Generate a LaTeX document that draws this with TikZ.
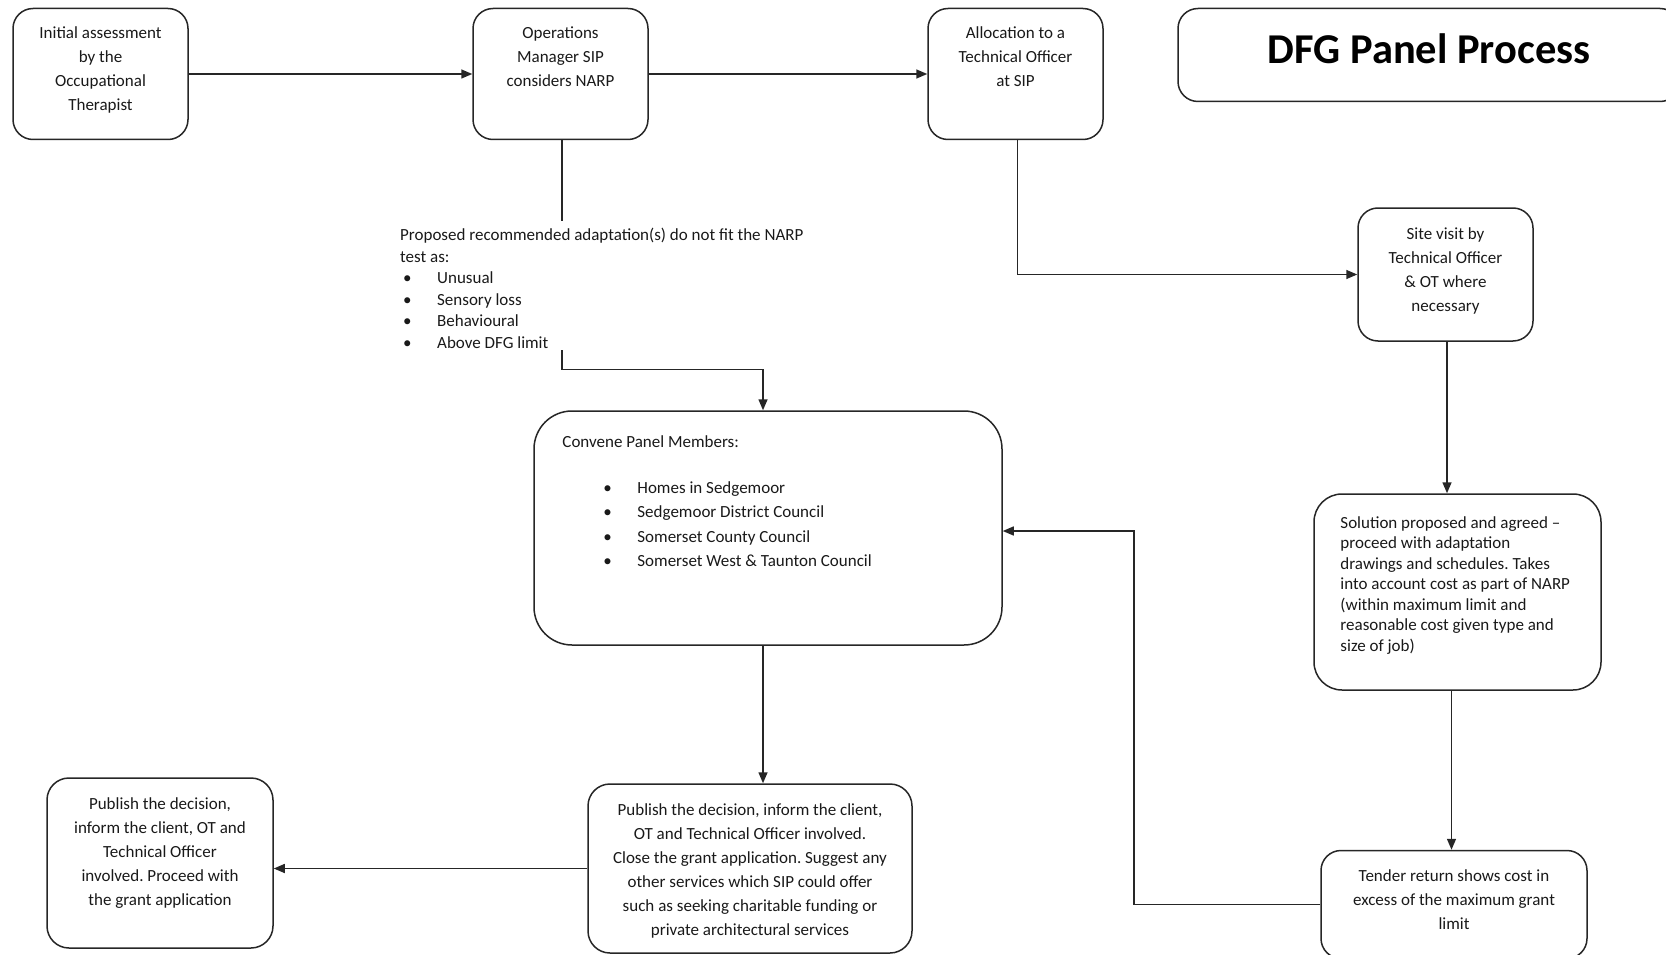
\documentclass[tikz,border=0pt]{standalone}
\usepackage{fontspec}
\setmainfont{Carlito}
\frenchspacing
\usetikzlibrary{arrows.meta,calc}
\tikzset{
  box/.style={draw=black!85, line width=1.5pt, rounded corners=20pt, inner sep=0pt},
  bigbox/.style={box, rounded corners=38pt},
  txt/.style={inner sep=0pt, align=center, font=\fontsize{17}{24}\selectfont, text=black!90},
  ltxt/.style={inner sep=0pt, align=left, font=\fontsize{17}{24}\selectfont, text=black!90},
  link/.style={draw=black!85, line width=1.5pt},
  arr/.style={link, -{Triangle[length=11pt,width=9pt]}},
}
\newcommand{\blt}[1]{\makebox[34pt][l]{\textbullet}#1}
\begin{document}
\begin{tikzpicture}[x=1pt,y=-1pt]
\useasboundingbox (0,0) rectangle (1666,955);
% boxes
\node[box, minimum width=175pt, minimum height=131pt] (A) at (100.5,74) {};
\node[box, minimum width=175pt, minimum height=131pt] (B) at (560.5,74) {};
\node[box, minimum width=175pt, minimum height=131pt] (C) at (1015.5,74) {};
\node[box, minimum width=502pt, minimum height=93pt] (title) at (1429,55) {};
\node[box, minimum width=175pt, minimum height=133pt] (site) at (1445.5,274.5) {};
\node[bigbox, minimum width=468pt, minimum height=234pt] (conv) at (768,528) {};
\node[box, rounded corners=28pt, minimum width=287pt, minimum height=196pt] (sol) at (1457.5,592) {};
\node[box, rounded corners=22pt, minimum width=324pt, minimum height=169pt] (pubR) at (750,868.5) {};
\node[box, rounded corners=22pt, minimum width=226pt, minimum height=170pt] (pubL) at (160,863) {};
\node[box, minimum width=266pt, minimum height=108pt] (tender) at (1454,904.5) {};
% texts
\node[txt, anchor=north] (tA) at ([yshift=-18.5pt]A.north) {Initial assessment\\by the\\Occupational\\Therapist};
\node[txt, anchor=north] (tB) at ([yshift=-18.5pt]B.north) {Operations\\Manager SIP\\considers NARP};
\node[txt, anchor=north] (tC) at ([yshift=-18.5pt]C.north) {Allocation to a\\Technical Officer\\at SIP};
\node[inner sep=0pt, font=\fontsize{42.5}{50}\selectfont\bfseries, text=black] (tT) at (1429,49) {DFG Panel Process};
\node[txt, anchor=north] (tS) at ([yshift=-20pt]site.north) {Site visit by\\Technical Officer\\\& OT where\\necessary};
\node[ltxt, anchor=north west, font=\fontsize{17}{20.5}\selectfont] (tSol) at ([xshift=27pt,yshift=-23pt]sol.north west)
  {Solution proposed and agreed –\\proceed with adaptation\\drawings and schedules. Takes\\into account cost as part of NARP\\(within maximum limit and\\reasonable cost given type and\\size of job)};
\node[txt, anchor=north] (tPR) at ([yshift=-20pt]pubR.north) {Publish the decision, inform the client,\\OT and Technical Officer involved.\\Close the grant application. Suggest any\\other services which SIP could offer\\such as seeking charitable funding or\\private architectural services};
\node[txt, anchor=north] (tPL) at ([yshift=-20pt]pubL.north) {Publish the decision,\\inform the client, OT and\\Technical Officer\\involved. Proceed with\\the grant application};
\node[txt, anchor=north] (tTe) at ([yshift=-20pt]tender.north) {Tender return shows cost in\\excess of the maximum grant\\limit};
\node[ltxt, anchor=north west, font=\fontsize{17}{24.3}\selectfont] (tConv) at ([xshift=29pt,yshift=-25pt]conv.north west)
  {Convene Panel Members:\\[22pt]
   \hspace*{41pt}\blt{Homes in Sedgemoor}\\
   \hspace*{41pt}\blt{Sedgemoor District Council}\\
   \hspace*{41pt}\blt{Somerset County Council}\\
   \hspace*{41pt}\blt{Somerset West \& Taunton Council}};
\node[ltxt, anchor=north west, font=\fontsize{17}{21.5}\selectfont] (narp) at (400,228)
  {Proposed recommended adaptation(s) do not fit the NARP\\test as:\\
   \hspace*{3pt}\blt{Unusual}\\
   \hspace*{3pt}\blt{Sensory loss}\\
   \hspace*{3pt}\blt{Behavioural}\\
   \hspace*{3pt}\blt{Above DFG limit}};
\coordinate (bend) at (1134,531);
% connectors
\draw[arr] (A.east) -- (B.west);
\draw[arr] (B.east) -- (C.west);
\draw[link] ([xshift=1.5pt]B.south) -- ([xshift=1.5pt,yshift=7pt]B.south |- narp.north);
\draw[arr] ([xshift=1.5pt,yshift=-2pt]B.south |- narp.south) -- ++(0,19) -| ([xshift=-5pt]conv.north);
\draw[arr] ([xshift=-5pt]conv.south) -- ([xshift=-5pt]conv.south |- pubR.north);
\draw[arr] (pubR.west) -- (pubR.west -| pubL.east);
\draw[arr] ([xshift=2pt]C.south) |- (site.west);
\draw[arr] ([xshift=1.5pt]site.south) -- ([xshift=1.5pt]site.south |- sol.north);
\draw[arr] ([xshift=-6pt]sol.south) -- ([xshift=-6pt]sol.south |- tender.north);
\draw[arr] (tender.west) -| (bend) -- (bend -| conv.east);
\end{tikzpicture}
\end{document}
